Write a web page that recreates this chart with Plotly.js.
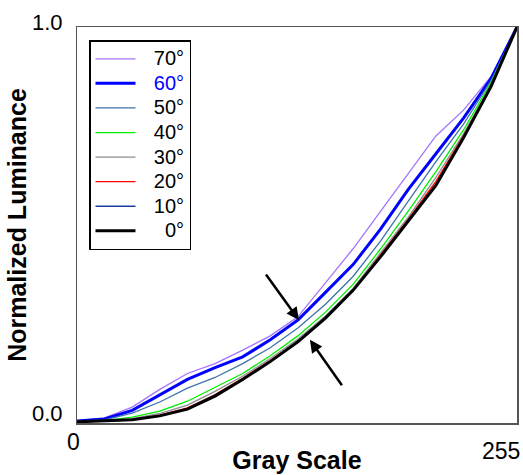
<!DOCTYPE html>
<html>
<head>
<meta charset="utf-8">
<script src="https://cdn.plot.ly/plotly-3.0.1.min.js"></script>
<style>html,body{margin:0;padding:0;background:#fff;}</style>
</head>
<body>
<div id="chart" style="width:523px;height:475px;"></div>
<script>
const gray = [0,16,32,48,64,80,96,112,128,144,160,176,192,208,224,240,255];
const angles = ['70°','60°','50°','40°','30°','20°','10°','0°'];
const lum70 = [0.005,0.013,0.040,0.085,0.125,0.150,0.184,0.220,0.268,0.355,0.440,0.535,0.630,0.725,0.790,0.875,1.0];
const lum60 = [0.005,0.010,0.032,0.070,0.110,0.140,0.167,0.210,0.260,0.330,0.400,0.490,0.590,0.680,0.770,0.870,1.0];
const lum50 = [0.004,0.008,0.025,0.053,0.088,0.115,0.150,0.190,0.240,0.300,0.370,0.460,0.560,0.660,0.755,0.865,1.0];
const lum40 = [0.004,0.006,0.015,0.030,0.055,0.090,0.125,0.170,0.220,0.280,0.350,0.440,0.535,0.635,0.740,0.860,1.0];
const lum30 = [0.003,0.005,0.011,0.024,0.045,0.080,0.118,0.163,0.212,0.270,0.340,0.430,0.520,0.620,0.730,0.855,1.0];
const lum20 = [0.003,0.005,0.009,0.020,0.038,0.072,0.113,0.158,0.207,0.265,0.335,0.425,0.515,0.610,0.725,0.850,1.0];
const lum10 = [0.003,0.005,0.008,0.019,0.036,0.070,0.111,0.156,0.206,0.266,0.336,0.421,0.511,0.602,0.721,0.851,1.0];
const lum0  = [0.003,0.005,0.008,0.018,0.035,0.068,0.110,0.155,0.205,0.265,0.335,0.420,0.510,0.600,0.720,0.850,1.0];
const series = [lum70,lum60,lum50,lum40,lum30,lum20,lum10,lum0];
const colors = ['#a474ff','#0000ff','#3f73a8','#00ee00','#8c8c8c','#ff0000','#1a3f9c','#000000'];
const widths = [1.3,3,1.3,1.3,1.3,1.3,1.6,3];
const xTickVals = [0,255];
const xTickText = ['0','255'];
const yTickText = ['0.0','1.0'];

const FONT = 'Arial, "Liberation Sans", sans-serif';
const gap = '<span style="font-size:24px">\u00a0\u00a0</span>';
function legendName(i){
  const pad = angles[i].length < 3 ? '\u00a0\u00a0' : '';
  const col = i===1 ? 'color:#0000ff;' : '';
  return gap + '<span style="font-size:20px;' + col + '">' + pad + angles[i] + '</span>';
}
const traces = series.map((ys,i)=>({
  x: gray, y: ys, type:'scatter', mode:'lines',
  name: legendName(i),
  line:{color:colors[i], width:widths[i]}
}));

// pixel helpers for plot area: x 77..517, y 27..423
const L=77,R=6,T=27,B=52,W=523-L-R,H=475-T-B;
const px = v => (v-L)/W;
const py = v => (475-B-v)/H;

const annotations = [
  {xref:'paper',yref:'paper',x:px(73),y:py(442),text:xTickText[0],showarrow:false,font:{size:23,color:'#000',family:FONT},xanchor:'center',yanchor:'middle'},
  {xref:'paper',yref:'paper',x:px(501),y:py(451),text:xTickText[1],showarrow:false,font:{size:23,color:'#000',family:FONT},xanchor:'center',yanchor:'middle'},
  {xref:'paper',yref:'paper',x:px(65),y:py(413),text:yTickText[0],showarrow:false,font:{size:22,color:'#000',family:FONT},xanchor:'right',yanchor:'middle'},
  {xref:'paper',yref:'paper',x:px(65),y:py(22),text:yTickText[1],showarrow:false,font:{size:22,color:'#000',family:FONT},xanchor:'right',yanchor:'middle'},
  {x:128.6,y:0.26,xref:'x',yref:'y',ax:-34,ay:-47,text:'',showarrow:true,arrowhead:2,arrowsize:1,arrowwidth:2.5,arrowcolor:'#000'},
  {x:135,y:0.21,xref:'x',yref:'y',ax:33,ay:47,text:'',showarrow:true,arrowhead:2,arrowsize:1,arrowwidth:2.5,arrowcolor:'#000'}
];

const layout = {
  width:523,height:475,
  margin:{l:L,r:R,t:T,b:B,pad:0},
  paper_bgcolor:'#fff',plot_bgcolor:'#fff',
  font:{family:FONT,color:'#000'},
  showlegend:true,
  legend:{x:px(89),y:py(40),xanchor:'left',yanchor:'top',bgcolor:'#fff',bordercolor:'#000',borderwidth:1.5,
    font:{size:16.6,family:FONT,color:'#000'},itemwidth:40,tracegroupgap:0},
  xaxis:{range:[0,255],showgrid:false,zeroline:false,showline:true,mirror:true,linecolor:'#555',linewidth:1.5,
    ticks:'',showticklabels:false,tickvals:xTickVals,
    title:{text:'<b>Gray Scale</b>\u00a0\u00a0\u00a0',font:{size:25,family:FONT,color:'#000'},standoff:28}},
  yaxis:{range:[0,1],showgrid:false,zeroline:false,showline:true,mirror:true,linecolor:'#555',linewidth:1.5,
    ticks:'',showticklabels:false,
    title:{text:'<b>Normalized Luminance</b>',font:{size:25,family:FONT,color:'#000'},standoff:42}},
  annotations:annotations
};
Plotly.newPlot('chart',traces,layout,{displayModeBar:false,staticPlot:true});
</script>
</body>
</html>
